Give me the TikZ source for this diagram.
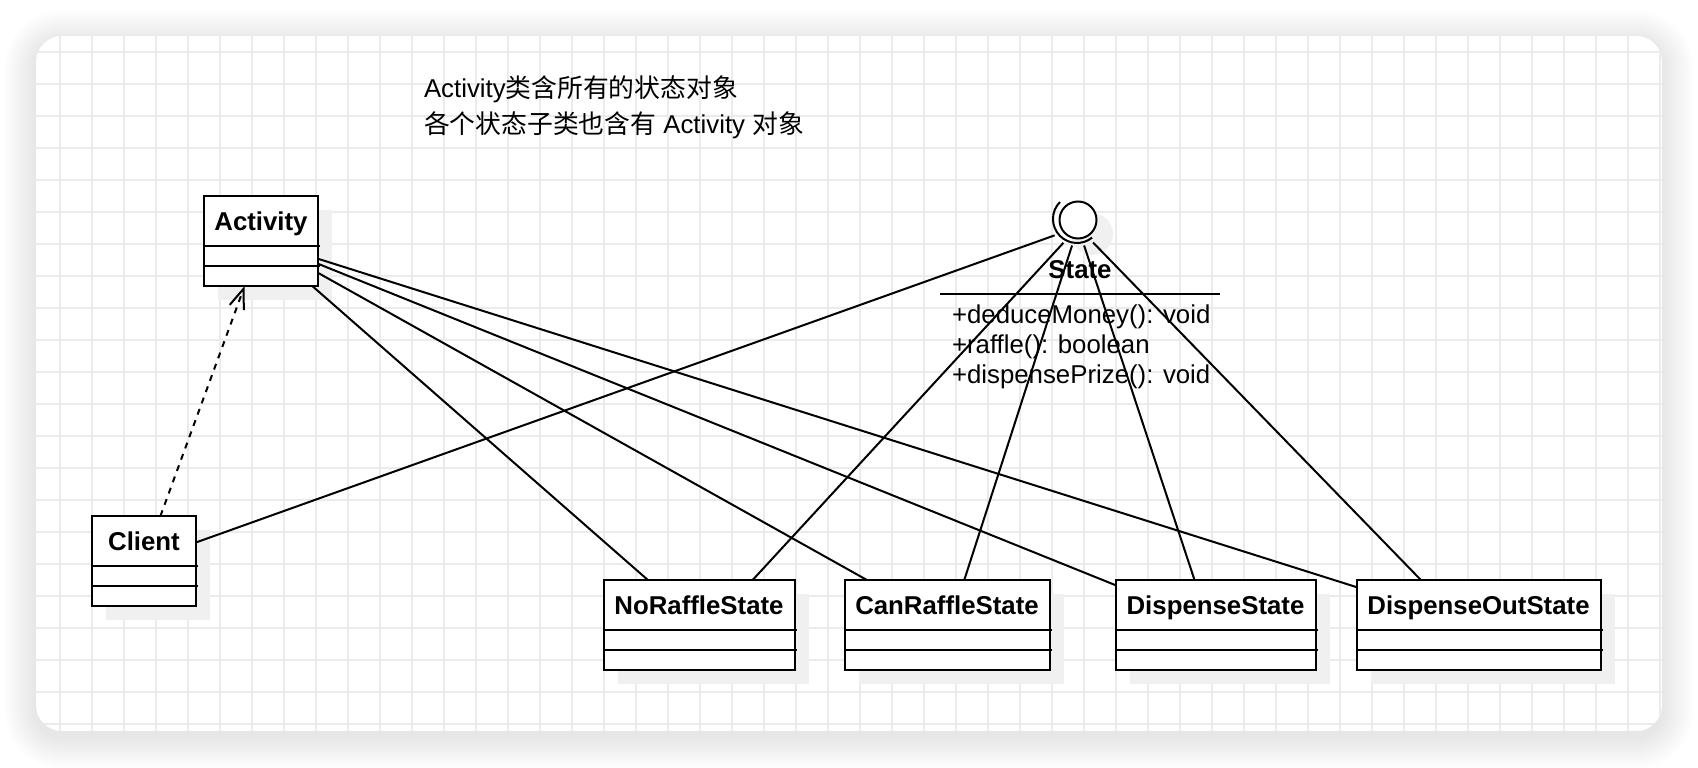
\documentclass[tikz,border=0pt]{standalone}
\usepackage{fontspec}
\setmainfont{Liberation Sans}
\newfontfamily\cjk{Noto Sans CJK SC}
\usepackage{xcolor}
\usepackage{tikz}
\usetikzlibrary{positioning,arrows.meta,shapes.geometric,shadows}

\begin{document}
\begin{tikzpicture}[x=1pt, y=-1pt, line width=2pt, node distance=50pt]
  % Styles
  \tikzstyle{umlclass}=[rectangle, draw, fill=white, inner sep=0pt, outer sep=0pt, text height=34pt, text depth=56pt, font=\fontsize{25.8pt}{31pt}\selectfont\bfseries, drop shadow={shadow xshift=14pt, shadow yshift=-14pt, opacity=1, fill=black!6}]
  \tikzstyle{iface}=[ellipse, minimum width=52pt, minimum height=38pt, inner sep=0pt, outer sep=0pt]
  \tikzstyle{plain}=[inner sep=0pt, font=\fontsize{25.8pt}{35.4pt}\selectfont, align=left]
  \tikzstyle{link}=[line width=2pt]

  % Page, card shadow and grid
  \useasboundingbox (0,0) rectangle (1698,768);
  \fill[white] (0,0) rectangle (1698,768);
  \foreach \i in {1,...,12}{
    \pgfmathsetmacro{\r}{26+2.6*\i}
    \fill[black, opacity=0.009, rounded corners=\r pt] (36-2.6*\i, 42-2.6*\i) rectangle (1662+2.6*\i, 737+2.6*\i);
  }
  \begin{scope}
    \clip[rounded corners=26pt] (36,36) rectangle (1662,731);
    \fill[white] (36,36) rectangle (1662,731);
    \foreach \gx in {60,92,...,1660} \draw[black!8, line width=1.6pt] (\gx,36) -- (\gx,731);
    \foreach \gy in {52,84,...,724} \draw[black!8, line width=1.6pt] (36,\gy) -- (1662,\gy);
  \end{scope}

  % Note
  \node[plain, anchor=base west] (note) at (423,133) {Activity{\cjk 类含所有的状态对象}\\{\cjk 各个状态子类也含有} Activity {\cjk 对象}};

  % Classes
  \node[umlclass, minimum width=114pt] (activity) at (261,241) {Activity};
  \node[umlclass, minimum width=104pt] (client) at (144,561) {Client};
  \node[umlclass, minimum width=191pt] (noraffle) at (699,625) {NoRaffleState};
  \node[umlclass, minimum width=205pt, right=50pt of noraffle] (canraffle) {CanRaffleState};
  \node[umlclass, minimum width=200pt, right=66pt of canraffle] (dispense) {DispenseState};
  \node[umlclass, minimum width=244pt, right=41pt of dispense] (dispenseout) {DispenseOutState};
  \foreach \c in {activity,client,noraffle,canraffle,dispense,dispenseout}{
    \draw ([yshift=-50pt]\c.north west) -- ([xshift=2pt,yshift=-50pt]\c.north east);
    \draw ([yshift=-70pt]\c.north west) -- ([xshift=2pt,yshift=-70pt]\c.north east);
  }

  % Interface
  \fill[black!6] (1092,234) circle[radius=21];
  \node[iface] (state) at (1078,227) {};
  \draw[fill=white] ([yshift=7pt]state.center) circle[radius=18.5];
  \draw (1060,202) arc (-135:-309:24);
  \node[inner sep=0pt, anchor=base, font=\fontsize{25.8pt}{31pt}\selectfont\bfseries] (statename) at (1080,278) {State};
  \draw (940,294) -- (1220,294);
  \node[plain, anchor=base west, font=\fontsize{25.8pt}{29.7pt}\selectfont] (statemethods) at (951,383) {+deduceMoney(): void\\+raffle(): boolean\\+dispensePrize(): void};

  % Arrows
  \draw[link, dash pattern=on 6pt off 6pt, -{Straight Barb[length=20pt, width=15pt]}] (client) -- (activity);
  \draw[link] (activity) -- (noraffle);
  \draw[link] (activity) -- (canraffle);
  \draw[link] (activity) -- (dispense);
  \draw[link] (activity) -- (dispenseout);
  \draw[link] (state) -- (client);
  \draw[link] (state) -- (noraffle.40);
  \draw[link] (state) -- (canraffle.69);
  \draw[link] (state) -- (dispense.115);
  \draw[link] (state) -- (dispenseout.142);
\end{tikzpicture}
\end{document}
